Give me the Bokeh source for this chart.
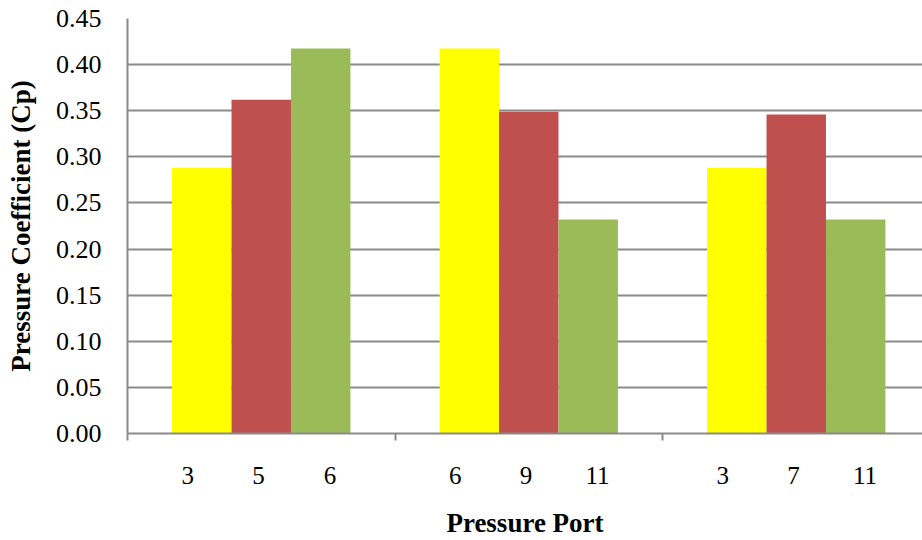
from bokeh.plotting import figure
from bokeh.models import Range1d, FixedTicker, NumeralTickFormatter, ColumnDataSource
from bokeh.embed import file_html
from bokeh.resources import INLINE

# ---- data ----
groups = ["Group 1", "Group 2", "Group 3"]
port_labels = [["3", "5", "6"], ["6", "9", "11"], ["3", "7", "11"]]
series1_yellow = [0.288, 0.4175, 0.288]
series2_red = [0.362, 0.349, 0.346]
series3_green = [0.4175, 0.232, 0.232]
y_ticks = [0.00, 0.05, 0.10, 0.15, 0.20, 0.25, 0.30, 0.35, 0.40, 0.45]

# ---- styling / layout constants ----
colors = ["#FFFF00", "#C0504D", "#9BBB59"]
bar_w = 2.0 / 9.0
gap = 1.0 / 6.0
label_offsets = [0.225, 0.49, 0.757]
FONT = "Liberation Serif"
GRID = "#8a8a8a"

p = figure(width=922, height=540, output_backend="svg", toolbar_location=None,
           x_range=Range1d(0, 795 / 267.5), y_range=Range1d(0, 0.45),
           min_border_left=127, min_border_top=18, min_border_right=0,
           min_border_bottom=10)
p.outline_line_color = None
p.background_fill_color = "white"
p.border_fill_color = "white"

all_series = [series1_yellow, series2_red, series3_green]
for i, vals in enumerate(all_series):
    xs = [g + gap + (i + 0.5) * bar_w for g in range(len(groups))]
    src = ColumnDataSource(dict(x=xs, top=vals))
    p.vbar(x="x", top="top", width=bar_w, bottom=0, source=src,
           fill_color=colors[i], line_color=None)

# x axis: per-bar port labels, group boundary ticks
tick_pos = []
overrides = {}
for g, labs in enumerate(port_labels):
    for k, lab in enumerate(labs):
        pos = round(g + label_offsets[k], 4)
        tick_pos.append(pos)
        overrides[pos] = lab
boundaries = [float(g) for g in range(len(groups) + 1)]
p.xaxis.ticker = FixedTicker(ticks=tick_pos, minor_ticks=boundaries)
p.xaxis.major_label_overrides = overrides
p.xaxis.major_tick_out = 0
p.xaxis.major_tick_in = 0
p.xaxis.minor_tick_out = 7
p.xaxis.minor_tick_in = 0
p.xaxis.minor_tick_line_color = GRID
p.xaxis.minor_tick_line_width = 2
p.xaxis.axis_line_color = GRID
p.xaxis.axis_line_width = 2
p.xaxis.major_label_text_font = FONT
p.xaxis.major_label_text_font_size = "25px"
p.xaxis.major_label_text_color = "black"
p.xaxis.major_label_standoff = 26
p.xaxis.axis_label = "Pressure Port"
p.xaxis.axis_label_text_font = FONT
p.xaxis.axis_label_text_font_style = "bold"
p.xaxis.axis_label_text_font_size = "27px"
p.xaxis.axis_label_text_color = "black"
p.xaxis.axis_label_standoff = 21
p.xgrid.grid_line_color = None

# y axis
p.yaxis.ticker = FixedTicker(ticks=y_ticks)
p.yaxis.formatter = NumeralTickFormatter(format="0.00")
p.yaxis.major_tick_out = 0
p.yaxis.major_tick_in = 0
p.yaxis.minor_tick_out = 0
p.yaxis.minor_tick_in = 0
p.yaxis.axis_line_color = GRID
p.yaxis.axis_line_width = 2
p.yaxis.major_label_text_font = FONT
p.yaxis.major_label_text_font_size = "26px"
p.yaxis.major_label_text_color = "black"
p.yaxis.major_label_standoff = 26
p.yaxis.axis_label = "Pressure Coefficient (Cp)"
p.yaxis.axis_label_text_font = FONT
p.yaxis.axis_label_text_font_style = "bold"
p.yaxis.axis_label_text_font_size = "27px"
p.yaxis.axis_label_text_color = "black"
p.yaxis.axis_label_standoff = 17
p.ygrid.ticker = FixedTicker(ticks=y_ticks)
p.ygrid.grid_line_color = GRID
p.ygrid.grid_line_width = 2

open("out.html", "w").write(file_html(p, INLINE))
